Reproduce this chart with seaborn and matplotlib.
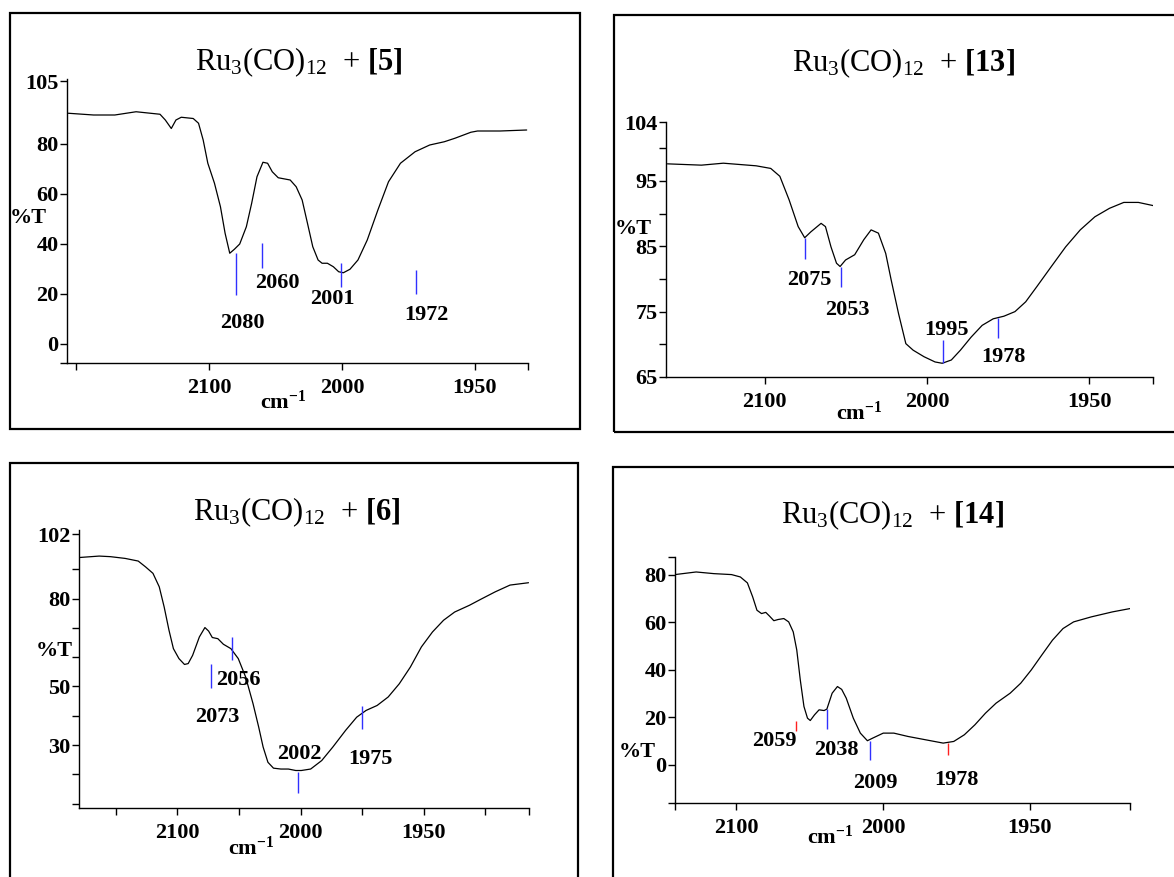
import numpy as np
import matplotlib
matplotlib.use("Agg")
import matplotlib.pyplot as plt
from matplotlib.patches import Rectangle
import seaborn as sns

# ---------------- spectra (wavenumber in cm-1, transmittance in %T) ----------------
wn_5 = [2206, 2187, 2171, 2155, 2137, 2133, 2128.5, 2125, 2121, 2112, 2108, 2104.5,
        2101, 2096, 2091.5, 2088, 2084.5, 2081, 2077, 2072, 2068, 2064, 2059.5, 2056,
        2052.5, 2048, 2039, 2034.5, 2030, 2026, 2022, 2018, 2015, 2011, 2006.5, 2002.5,
        1999.5, 1997, 1994, 1990.5, 1986.5, 1982.5, 1978, 1972.5, 1967, 1961.5, 1957.5,
        1951.5, 1949, 1940.5, 1930.5]
t_5 = [92.2, 91.5, 91.5, 92.8, 91.8, 89.5, 86.1, 89.5, 90.6, 90.1, 88.2, 81.5,
       72.2, 64.2, 54.8, 44.2, 36.2, 37.8, 39.9, 46.8, 56.2, 66.8, 72.6, 72.2,
       68.8, 66.4, 65.5, 62.8, 57.5, 48.2, 38.8, 33.5, 32.2, 32.2, 30.8, 28.8,
       28.4, 29.8, 33.5, 41.5, 53.5, 64.8, 72.2, 76.8, 79.5, 80.8, 82.2,
       84.6, 85.1, 85.1, 85.5]
peaks_5 = [2080, 2060, 2001, 1972]

wn_13 = [2159.8, 2138.9, 2125.4, 2105.2, 2096.2, 2090.6, 2084.9, 2079.3, 2075.3, 2071.5,
         2065.2, 2062.5, 2059.1, 2055.7, 2053.5, 2050.1, 2044.5, 2038.9, 2034.4, 2029.9,
         2025.4, 2022.0, 2017.5, 2013.0, 2008.5, 2001.8, 1997.5, 1995.3, 1992.5, 1989.7,
         1986.4, 1983.0, 1979.6, 1976.3, 1972.9, 1969.6, 1966.2, 1961.7, 1957.3, 1952.8,
         1948.3, 1943.8, 1939.4, 1934.9, 1930.2]
t_13 = [97.6, 97.4, 97.7, 97.3, 96.9, 95.7, 92.1, 88.0, 86.3, 87.2,
        88.5, 88.0, 84.9, 82.4, 81.9, 82.9, 83.7, 86.0, 87.5, 87.0,
        83.9, 79.8, 74.7, 70.1, 69.1, 68.1, 67.3, 67.1, 67.6, 69.1,
        71.1, 72.9, 73.9, 74.3, 75.0, 76.5, 78.8, 81.9, 84.9, 87.5,
        89.5, 90.8, 91.7, 91.7, 91.2]
peaks_13 = [2075, 2053, 1995, 1978]

wn_6 = [2180, 2163.6, 2154.5, 2142.5, 2131.9, 2125.9, 2119.9, 2114.8, 2110.8, 2106.9,
        2103.3, 2098.8, 2094.3, 2091.3, 2087.7, 2082.2, 2077.7, 2074.7, 2071.7, 2067.2,
        2062.7, 2056.6, 2050.6, 2044.6, 2038.6, 2034.0, 2030.4, 2026.5, 2022.0, 2016.0,
        2009.9, 2003.9, 1999.7, 1995.9, 1991.4, 1986.9, 1981.7, 1977.2, 1973.4, 1968.9,
        1964.4, 1959.9, 1955.4, 1950.9, 1946.4, 1941.9, 1937.4, 1931.4, 1926.9, 1920.9,
        1914.9, 1907.4]
t_6 = [94.0, 94.5, 94.3, 93.7, 92.8, 90.8, 88.6, 84.0, 77.1, 69.2,
       62.9, 59.5, 57.5, 57.8, 60.6, 66.9, 70.1, 68.9, 66.7, 66.3,
       64.4, 62.9, 59.5, 53.2, 44.1, 36.1, 29.3, 24.1, 22.1, 21.8,
       21.8, 21.3, 21.3, 21.8, 24.7, 29.3, 35.0, 39.5, 41.8, 43.5,
       46.4, 50.9, 56.6, 63.5, 68.6, 72.6, 75.4, 77.7, 79.7, 82.3,
       84.6, 85.4]
peaks_6 = [2073, 2056, 2002, 1975]

wn_14 = [2141.6, 2127.2, 2115.1, 2103.1, 2097.1, 2092.3, 2088.7, 2085.8, 2082.7, 2079.8,
         2077.2, 2074.3, 2071.4, 2067.5, 2064.2, 2061.1, 2058.7, 2056.3, 2053.8, 2051.4,
         2049.5, 2046.6, 2043.5, 2040.1, 2038.2, 2034.6, 2031.0, 2028.1, 2025.0, 2020.2,
         2015.4, 2010.6, 2007.0, 1999.9, 1996.3, 1991.5, 1985.5, 1979.5, 1975.9, 1972.3,
         1968.7, 1965.1, 1961.5, 1956.7, 1953.1, 1949.5, 1945.9, 1942.3, 1938.7, 1935.1,
         1929.1, 1921.9, 1915.9]
t_14 = [80.0, 81.1, 80.4, 80.0, 79.0, 76.5, 70.6, 65.0, 63.6, 64.1,
        62.5, 60.6, 61.1, 61.5, 60.1, 55.9, 48.3, 35.7, 24.5, 19.6,
        18.6, 21.0, 23.1, 22.8, 23.4, 30.1, 32.9, 31.7, 28.0, 19.6,
        13.3, 10.1, 11.2, 13.3, 13.3, 11.9, 10.5, 9.1, 9.8, 12.6,
        16.8, 21.7, 25.9, 30.1, 34.3, 39.9, 46.2, 52.4, 57.3, 60.1,
        62.2, 64.3, 65.7]
peaks_14 = [2059, 2038, 2009, 1978]

compounds = ["5", "13", "6", "14"]

# ---------------- layout (figure pixels, origin top-left) ----------------
W, H = 1174, 877
BLUE, RED = "#3030ff", "#ff2020"

panels = [
    dict(label="5", wn=wn_5, t=t_5, peaks=peaks_5,
         colors=[BLUE] * 4,
         spans=[(36.3, 19.5), (40.3, 30.3), (32.3, 22.7), (29.5, 19.9)],
         text_y=[8.3, 24.3, 17.9, 11.5], text_dx=[7, 15, -8, 10],
         box=(10, 13, 580, 429), axes=(67, 79, 528, 363),
         xlim=(2207, 1930), ylim=(-7.7, 105.9),
         xticks=[2200, 2100, 2000, 1950, 1930], xlab=["", "2100", "2000", "1950", ""],
         yticks=[-7.7, 0, 20, 40, 60, 80, 105], ylab=["", "0", "20", "40", "60", "80", "105"],
         title=(299, 62), pct=(28, 218), cm=(283, 402), fs=16),
    dict(label="13", wn=wn_13, t=t_13, peaks=peaks_13,
         colors=[BLUE] * 4,
         spans=[(86.3, 83.1), (81.9, 78.7), (70.6, 67.1), (74.1, 70.9)],
         text_y=[79.8, 75.3, 72.2, 68.0], text_dx=[4, 6, 3, 5],
         box=(614, 15, 1185, 432), axes=(666, 122, 1153, 377),
         xlim=(2160.7, 1930.4), ylim=(65, 104),
         xticks=[2100, 2000, 1950, 1930.4], xlab=["2100", "2000", "1950", ""],
         yticks=[65, 70, 75, 80, 85, 90, 95, 100, 104],
         ylab=["65", "", "75", "", "85", "", "95", "", "104"],
         title=(903, 63), pct=(633, 229), cm=(859, 413), fs=16),
    dict(label="6", wn=wn_6, t=t_6, peaks=peaks_6,
         colors=[BLUE] * 4,
         spans=[(57.5, 49.6), (66.9, 58.9), (20.9, 13.6), (43.3, 35.5)],
         text_y=[39.7, 52.3, 27.0, 25.3], text_dx=[7, 7, 1, 8],
         box=(10, 463, 578, 890), axes=(79, 530, 529, 808),
         xlim=(2180, 1907.2), ylim=(8.5, 103.4),
         xticks=[2150, 2100, 2050, 2000, 1975, 1950, 1925, 1907.2],
         xlab=["", "2100", "", "2000", "", "1950", "", ""],
         yticks=[10, 20, 30, 40, 50, 60, 70, 80, 90, 102],
         ylab=["", "", "30", "", "50", "", "", "80", "", "102"],
         title=(297, 512), pct=(54, 651), cm=(251, 848), fs=16),
    dict(label="14", wn=wn_14, t=t_14, peaks=peaks_14,
         colors=[RED, BLUE, BLUE, RED],
         spans=[(18.6, 14.4), (23.4, 15.0), (10.1, 1.8), (9.1, 4.2)],
         text_y=[9.8, 6.3, -7.7, -6.3], text_dx=[-22, 9, 6, 9],
         box=(613, 467, 1185, 890), axes=(675, 557, 1130, 803),
         xlim=(2141.6, 1915.9), ylim=(-16.1, 87.4),
         xticks=[2141.6, 2100, 2000, 1950, 1915.9], xlab=["", "2100", "2000", "1950", ""],
         yticks=[-16.1, 0, 20, 40, 60, 80, 87.4], ylab=["", "0", "20", "40", "60", "80", ""],
         title=(892, 515), pct=(637, 752), cm=(830, 837), fs=16),
]

# ---------------- style ----------------
sns.set_theme(style="ticks")
plt.rcParams["font.family"] = ["Liberation Serif", "DejaVu Serif"]
plt.rcParams["mathtext.fontset"] = "custom"
plt.rcParams["mathtext.rm"] = "Liberation Serif"
plt.rcParams["mathtext.it"] = "Liberation Serif:italic"
plt.rcParams["mathtext.bf"] = "Liberation Serif:bold"
for key in ("text.color", "axes.labelcolor", "xtick.color", "ytick.color", "axes.edgecolor"):
    plt.rcParams[key] = "black"


def fwd(x):
    # the spectrometer doubles the abscissa scale below 2000 cm-1
    x = np.asarray(x, dtype=float)
    return np.where(x >= 2000, x, 2000 + 2 * (x - 2000))


def inv(u):
    u = np.asarray(u, dtype=float)
    return np.where(u >= 2000, u, 2000 + (u - 2000) / 2)


def fx(px):
    return px / W


def fy(py):
    return 1 - py / H


fig = plt.figure(figsize=(W / 100, H / 100), dpi=100)

for p in panels:
    x0, y0, x1, y1 = p["box"]
    fig.add_artist(Rectangle((fx(x0), fy(y1)), (x1 - x0) / W, (y1 - y0) / H,
                             transform=fig.transFigure, fill=False,
                             edgecolor="black", linewidth=1.6, clip_on=False))

    l, t, r, b = p["axes"]
    ax = fig.add_axes([fx(l), fy(b), (r - l) / W, (b - t) / H])
    ax.set_xscale("function", functions=(fwd, inv))
    sns.lineplot(x=p["wn"], y=p["t"], ax=ax, color="black", linewidth=0.9,
                 sort=False, estimator=None)
    ax.set_xlim(*p["xlim"])
    ax.set_ylim(*p["ylim"])

    fs = p["fs"]
    ax.vlines(p["peaks"], [s[1] for s in p["spans"]], [s[0] for s in p["spans"]],
              colors=p["colors"], linewidth=1.0)
    for wn, ty, dx in zip(p["peaks"], p["text_y"], p["text_dx"]):
        ax.annotate(str(wn), xy=(wn, ty), xytext=(dx, 0), textcoords="offset pixels",
                    ha="center", va="center", fontsize=fs, fontweight="bold",
                    color="black", annotation_clip=False)

    ax.set_xticks(p["xticks"])
    ax.set_xticklabels(p["xlab"], fontsize=fs, fontweight="bold")
    ax.set_yticks(p["yticks"])
    ax.set_yticklabels(p["ylab"], fontsize=fs, fontweight="bold")
    ax.minorticks_off()
    ax.tick_params(axis="x", direction="out", length=5, width=1, pad=6,
                   colors="black", labelcolor="black")
    ax.tick_params(axis="y", direction="out", length=5, width=1, pad=1,
                   colors="black", labelcolor="black")
    for side in ("top", "right"):
        ax.spines[side].set_visible(False)
    for side in ("left", "bottom"):
        ax.spines[side].set_linewidth(1.0)
        ax.spines[side].set_color("black")
    ax.set_xlabel("")
    ax.set_ylabel("")
    ax.patch.set_alpha(0)

    tx, ty = p["title"]
    fig.text(fx(tx), fy(ty), r"$\mathrm{Ru_{3}(CO)_{12}}$  + $\mathbf{[" + p["label"] + r"]}$",
             ha="center", va="center", fontsize=22, color="black")
    px_, py_ = p["pct"]
    fig.text(fx(px_), fy(py_), "%T", ha="center", va="center", fontsize=fs,
             fontweight="bold", color="black")
    cx, cy = p["cm"]
    fig.text(fx(cx), fy(cy), r"$\mathbf{cm^{-1}}$", ha="center", va="center",
             fontsize=fs, color="black")

fig.savefig("out.png", dpi=100, facecolor="white")
